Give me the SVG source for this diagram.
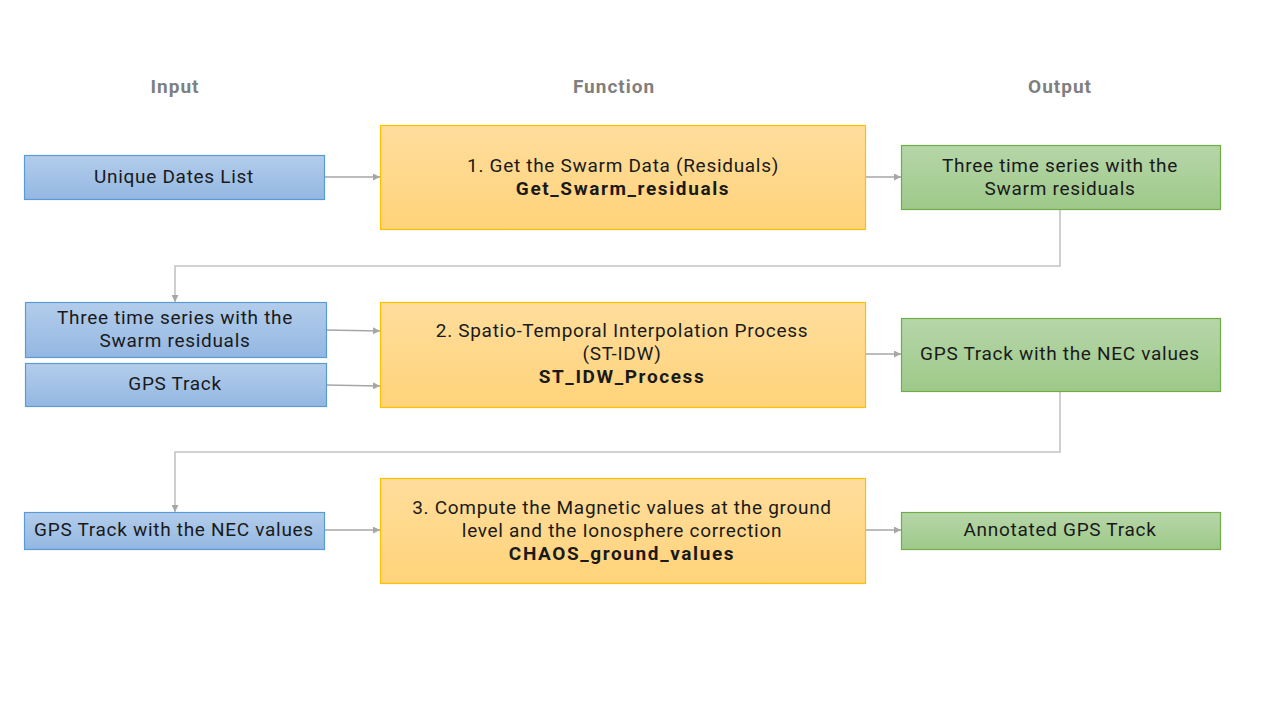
<svg xmlns="http://www.w3.org/2000/svg" width="1280" height="720" viewBox="0 0 1280 720">
<defs>
<linearGradient id="gb" x1="0" y1="0" x2="0" y2="1"><stop offset="0" stop-color="#b3cdeb"/><stop offset="1" stop-color="#93b7e2"/></linearGradient>
<linearGradient id="gy" x1="0" y1="0" x2="0" y2="1"><stop offset="0" stop-color="#ffdd9c"/><stop offset="1" stop-color="#ffd37a"/></linearGradient>
<linearGradient id="gg" x1="0" y1="0" x2="0" y2="1"><stop offset="0" stop-color="#b6d6a8"/><stop offset="1" stop-color="#9ec98a"/></linearGradient>
<marker id="ar" viewBox="0 0 10 10" refX="10" refY="5" markerWidth="9" markerHeight="7" markerUnits="userSpaceOnUse" orient="auto"><path d="M0,0 L10,5 L0,10 z" fill="#a6a6a6"/></marker>
<style>
.b{fill:url(#gb);stroke:#5b9bd5;stroke-width:1.2}
.y{fill:url(#gy);stroke:#ffc000;stroke-width:1.2}
.g{fill:url(#gg);stroke:#70ad47;stroke-width:1.2}
text{font-family:Roboto,"Noto Sans","Liberation Sans",sans-serif;font-size:19px;letter-spacing:0.7px;fill:#1a1a1a;text-anchor:middle}
.bo{font-weight:bold;letter-spacing:1.6px}
.h{font-weight:bold;fill:#7f7f7f;font-size:19px;letter-spacing:1px}
.c{fill:none;stroke:#a6a6a6;stroke-width:1.3}
.c2{fill:none;stroke:#c4c4c4;stroke-width:1.6}
</style>
</defs>
<rect width="1280" height="720" fill="#ffffff"/>
<g id="headers">
<text class="h" x="175" y="93">Input</text>
<text class="h" x="614" y="93">Function</text>
<text class="h" x="1060" y="93">Output</text>
</g>
<g id="connectors">
<line class="c" x1="324" y1="177" x2="380" y2="177" marker-end="url(#ar)"/>
<line class="c" x1="865" y1="177" x2="901" y2="177" marker-end="url(#ar)"/>
<polyline class="c2" points="1060,209 1060,266 175,266 175,302" marker-end="url(#ar)"/>
<line class="c" x1="326" y1="330" x2="380" y2="331" marker-end="url(#ar)"/>
<line class="c" x1="326" y1="385" x2="380" y2="386" marker-end="url(#ar)"/>
<line class="c" x1="865" y1="354" x2="901" y2="354" marker-end="url(#ar)"/>
<polyline class="c2" points="1060,391 1060,452 175,452 175,512" marker-end="url(#ar)"/>
<line class="c" x1="324" y1="530" x2="380" y2="530" marker-end="url(#ar)"/>
<line class="c" x1="865" y1="530" x2="901" y2="530" marker-end="url(#ar)"/>
</g>
<g id="in1"><rect class="b" x="24.5" y="155.5" width="300" height="44"/><text x="174" y="183">Unique Dates List</text></g>
<g id="fn1"><rect class="y" x="380.5" y="125.5" width="485" height="104"/><text x="623" y="172">1. Get the Swarm Data (Residuals)</text><text class="bo" x="623" y="195">Get_Swarm_residuals</text></g>
<g id="out1"><rect class="g" x="901.5" y="145.5" width="319" height="64"/><text x="1060" y="172">Three time series with the</text><text x="1060" y="195">Swarm residuals</text></g>
<g id="in2"><rect class="b" x="25.5" y="302.5" width="301" height="55"/><text x="175" y="324">Three time series with the</text><text x="175" y="347">Swarm residuals</text></g>
<g id="in3"><rect class="b" x="25.5" y="363.5" width="301" height="43"/><text x="175" y="390">GPS Track</text></g>
<g id="fn2"><rect class="y" x="380.5" y="302.5" width="485" height="105"/><text x="622" y="337">2. Spatio-Temporal Interpolation Process</text><text x="622" y="360">(ST-IDW)</text><text class="bo" x="622" y="383">ST_IDW_Process</text></g>
<g id="out2"><rect class="g" x="901.5" y="318.5" width="319" height="73"/><text x="1060" y="360">GPS Track with the NEC values</text></g>
<g id="in4"><rect class="b" x="24.5" y="512.5" width="300" height="37"/><text x="174" y="536">GPS Track with the NEC values</text></g>
<g id="fn3"><rect class="y" x="380.5" y="478.5" width="485" height="105"/><text x="622" y="514">3. Compute the Magnetic values at the ground</text><text x="622" y="537">level and the Ionosphere correction</text><text class="bo" x="622" y="560">CHAOS_ground_values</text></g>
<g id="out3"><rect class="g" x="901.5" y="512.5" width="319" height="37"/><text x="1060" y="536">Annotated GPS Track</text></g>
</svg>
